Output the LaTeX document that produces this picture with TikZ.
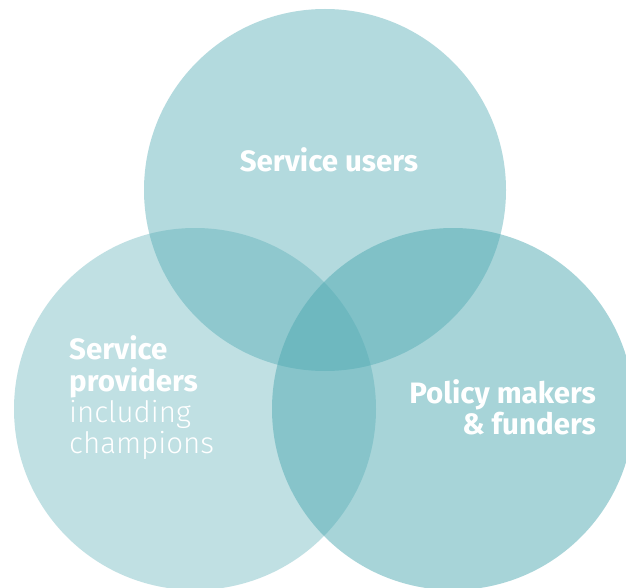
\documentclass[tikz,border=0pt]{standalone}
\usepackage{fontspec}
\setmainfont{Fira Sans}
\newfontfamily\lightfont{Fira Sans Light}
\begin{document}
\begin{tikzpicture}[x=1pt,y=-1pt,
  ring/.style={fill=venn,draw=none},
  lbl/.style={text=white,font=\bfseries\fontsize{29.5}{31.3}\selectfont,inner sep=0pt}]
\definecolor{venn}{RGB}{76,168,177}
\useasboundingbox (0,0) rectangle (626,588);
\fill[white] (0,0) rectangle (626,588);
% three overlapping translucent discs
\fill[ring,fill opacity=0.42] (325,190) circle (181);
\fill[ring,fill opacity=0.35] (195,409) circle (181);
\fill[ring,fill opacity=0.49] (453,409) circle (181);
% labels
\node[lbl] (users) at (329,160) {Service users};
\node[lbl,anchor=west,align=left] (providers) at (69,398)
  {Service\\providers\\{\mdseries\lightfont including}\\{\mdseries\lightfont champions}};
\node[lbl,anchor=east,align=right] (policy) at (596,407) {Policy makers\\\& funders};
\end{tikzpicture}
\end{document}
